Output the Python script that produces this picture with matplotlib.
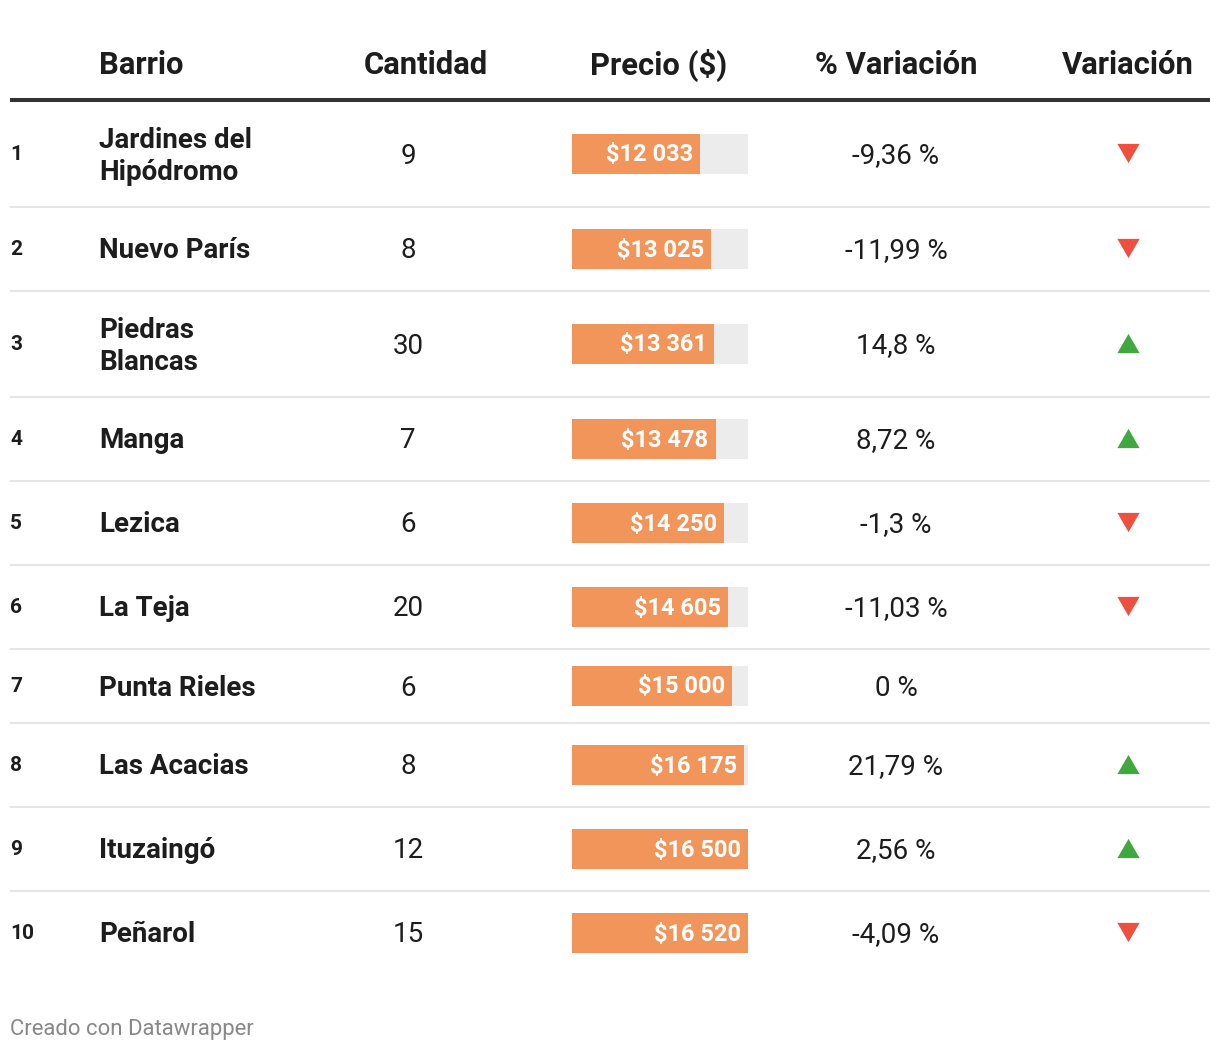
import matplotlib.pyplot as plt
from matplotlib import transforms

# data
barrios = ['Jardines del\nHipódromo', 'Nuevo París', 'Piedras\nBlancas', 'Manga', 'Lezica',
           'La Teja', 'Punta Rieles', 'Las Acacias', 'Ituzaingó', 'Peñarol']
cantidad = [9, 8, 30, 7, 6, 20, 6, 8, 12, 15]
precio = [12033, 13025, 13361, 13478, 14250, 14605, 15000, 16175, 16500, 16520]
variacion = [-9.36, -11.99, 14.8, 8.72, -1.3, -11.03, 0, 21.79, 2.56, -4.09]
headers = ['Barrio', 'Cantidad', 'Precio ($)', '% Variación', 'Variación']

ORANGE = '#f2955a'
BG = '#ececec'
RED = '#ee5040'
GREEN = '#3fa83f'
DARK = '#1d1d1d'

plt.rcParams['font.family'] = ['Roboto', 'DejaVu Sans']


def main():
    W, H = 1220, 1050
    fig = plt.figure(figsize=(W / 100, H / 100), dpi=100)
    ax = fig.add_axes([0, 0, 1, 1])
    ax.set_xlim(0, W)
    ax.set_ylim(H, 0)
    ax.axis('off')

    # column positions (px)
    col_x = [99, 426, 659, 896, 1194]
    col_ha = ['left', 'center', 'center', 'center', 'right']
    for h, x, ha in zip(headers, col_x, col_ha):
        ax.text(x, 74.5, h, ha=ha, va='baseline', fontsize=22.3,
                fontweight='bold', color=DARK)
    ax.plot([10, 1210], [100, 100], color='#333333', lw=2.9,
            solid_capstyle='butt')

    # row layout
    tops = []
    y = 100
    centers = []
    for name, v in zip(barrios, variacion):
        h = 84 + 22 * name.count('\n') - (10 if v == 0 else 0)
        centers.append(y + h / 2)
        y += h
        tops.append(y)
    for sep in tops[:-1]:
        ax.plot([10, 1210], [sep + 0.5, sep + 0.5], color='#e6e6e6', lw=1.4,
                solid_capstyle='butt')

    # bar column axes
    bx0, bx1 = 572, 748
    bax = fig.add_axes([bx0 / W, 0, (bx1 - bx0) / W, 1])
    bax.set_ylim(H, 0)
    bax.set_xlim(0, max(precio))
    bax.axis('off')
    bax.barh([c + 0.5 for c in centers], [max(precio)] * len(precio), height=40, color=BG)
    bax.barh([c + 0.5 for c in centers], precio, height=40, color=ORANGE)
    off = transforms.offset_copy(bax.transData, fig=fig, x=-7, y=0, units='dots')
    for yc, p in zip(centers, precio):
        lab = '$' + f'{p:,}'.replace(',', ' ')
        bax.text(p, yc + 8.5, lab, transform=off, ha='right', va='baseline',
                 fontsize=17, fontweight='bold', color='white')

    for i, (yc, name, c, v) in enumerate(zip(centers, barrios, cantidad, variacion)):
        ax.text(10, yc + 7, str(i + 1), ha='left', va='baseline', fontsize=15,
                fontweight='bold', color=DARK)
        lines = name.split('\n')
        n = len(lines)
        for j, ln in enumerate(lines):
            ly = yc + (j - (n - 1) / 2) * 32
            ax.text(99, ly + 10.5, ln, ha='left', va='baseline', fontsize=20,
                    fontweight='bold', color=DARK)
        ax.text(408, yc + 10.5, str(c), ha='center', va='baseline', fontsize=20,
                color=DARK)
        ax.text(896, yc + 10.5, f'{v:g}'.replace('.', ',') + ' %', ha='center',
                va='baseline', fontsize=20, color=DARK)
        if v != 0:
            if v < 0:
                verts = [(-1, 0.866), (1, 0.866), (0, -0.866)]
                col = RED
            else:
                verts = [(-1, -0.866), (1, -0.866), (0, 0.866)]
                col = GREEN
            ax.plot([1128], [yc], marker=verts, ms=16, color=col, mew=0,
                    ls='none')

    ax.text(10, 1035, 'Creado con Datawrapper', ha='left', va='baseline',
            fontsize=15.9, color='#888888')

    fig.savefig('out.png', dpi=100)


if __name__ == '__main__':
    main()
